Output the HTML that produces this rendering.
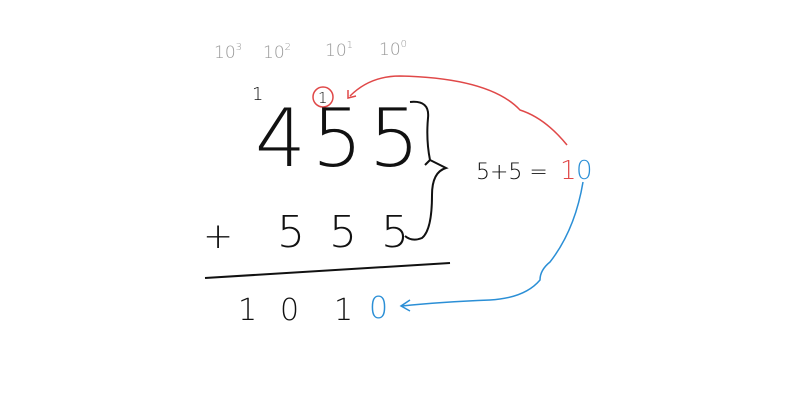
<!DOCTYPE html>
<html><head><meta charset="utf-8"><style>
html,body{margin:0;padding:0;background:#fff;}
svg{display:block;}
text{font-family:"DejaVu Sans","Liberation Sans",sans-serif;font-weight:200;}
</style></head><body>
<svg width="800" height="400" viewBox="0 0 800 400">
<rect width="800" height="400" fill="#fff"/>
<g fill="#999" font-size="17">
<text x="214" y="58">10<tspan font-size="10" dy="-8">3</tspan></text>
<text x="263" y="58">10<tspan font-size="10" dy="-8">2</tspan></text>
<text x="325" y="56">10<tspan font-size="10" dy="-8">1</tspan></text>
<text x="379" y="55">10<tspan font-size="10" dy="-8">0</tspan></text>
</g>
<text x="252" y="100" font-size="18" fill="#111">1</text>
<circle cx="323" cy="97" r="10" fill="none" stroke="#e04848" stroke-width="1.5"/>
<text x="318" y="103" font-size="15" fill="#111">1</text>
<text x="255" y="166" font-size="80" fill="#111" letter-spacing="6">455</text>
<path d="M410 102 Q430 100 428 118 Q426 140 430 160 Q440 165 446 168 Q432 172 432 195 Q432 230 422 238 Q412 242 405 236" fill="none" stroke="#111" stroke-width="2"/>
<path d="M430 160 L425 165" fill="none" stroke="#111" stroke-width="2"/>
<text x="203" y="248" font-size="36" fill="#111">+</text>
<text x="277" y="247" font-size="44" fill="#111" letter-spacing="24">555</text>
<path d="M205 278 Q330 270 450 263" fill="none" stroke="#111" stroke-width="2"/>
<text x="238" y="320" font-size="30" fill="#111">1</text>
<text x="280" y="320" font-size="30" fill="#111">0</text>
<text x="334" y="320" font-size="30" fill="#111">1</text>
<text x="369" y="318" font-size="30" fill="#2b8fd6">0</text>
<text x="476" y="179" font-size="22" fill="#111">5+5 =</text>
<text x="560" y="179" font-size="26" fill="#e04848">1</text>
<text x="576" y="179" font-size="26" fill="#2b8fd6">0</text>
<path d="M567 145 Q545 118 520 110 Q490 78 400 76 Q370 76 350 96" fill="none" stroke="#e04848" stroke-width="1.5"/>
<path d="M348 90 L348 98 L356 96" fill="none" stroke="#e04848" stroke-width="1.5"/>
<path d="M583 182 Q575 230 550 262 Q540 270 540 280 Q525 298 490 300 Q440 302 402 306" fill="none" stroke="#2b8fd6" stroke-width="1.5"/>
<path d="M410 300 L401 306 L410 311" fill="none" stroke="#2b8fd6" stroke-width="1.5"/>
</svg>
</body></html>
